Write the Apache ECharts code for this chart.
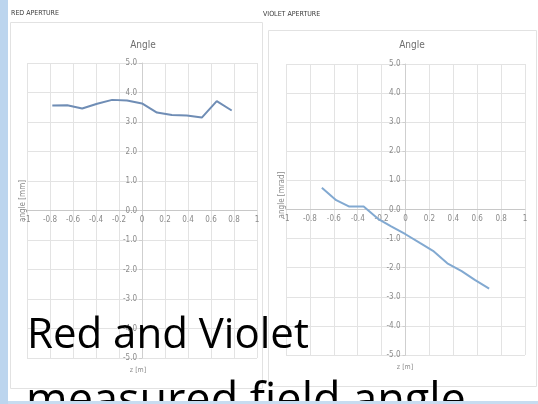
<!DOCTYPE html>
<html>
<head>
<meta charset="utf-8">
<script src="https://cdn.jsdelivr.net/npm/echarts@6/dist/echarts.min.js"></script>
<style>
  html, body { margin: 0; padding: 0; background: #ffffff; }
  #chart { width: 538px; height: 404px; }
</style>
</head>
<body>
<div id="chart"></div>
<script>
// Red aperture: angle [mm] versus z [m]
const redZ = [-0.78, -0.65, -0.52, -0.39, -0.26, -0.13, 0, 0.13, 0.26, 0.39, 0.52, 0.65, 0.78];
const redAngle = [3.56, 3.57, 3.46, 3.62, 3.75, 3.73, 3.63, 3.32, 3.24, 3.22, 3.15, 3.71, 3.39];

// Violet aperture: angle [mrad] versus z [m]
const violetZ = [-0.70, -0.58, -0.47, -0.35, -0.23, -0.12, 0, 0.12, 0.23, 0.35, 0.47, 0.58, 0.70];
const violetAngle = [0.75, 0.32, 0.10, 0.10, -0.32, -0.58, -0.85, -1.15, -1.42, -1.85, -2.12, -2.42, -2.72];

const zTicks = { min: -1, max: 1, step: 0.2 };
const angleTicks = { min: -5, max: 5, step: 1 };

const labelFont = "'Liberation Sans Narrow', 'DejaVu Sans Condensed', 'Liberation Sans', sans-serif";
const gridColor = '#e3e3e3';
const labelColor = '#8a8a8a';

// plot rectangles of the two panels
const panels = [
  { left: 27, top: 63, width: 230, height: 295 },
  { left: 286, top: 64, width: 239, height: 291 }
];

function pairs(xs, ys) { return xs.map((x, i) => [x, ys[i]]); }

// axes cross at zero: shift each axis from its edge to the zero of the other axis
function zeroShift(length, t) { return -length * (0 - t.min) / (t.max - t.min); }

function xAxisFor(gi) {
  return {
    type: 'value', gridIndex: gi, position: 'bottom',
    offset: zeroShift(panels[gi].height, angleTicks),
    min: zTicks.min, max: zTicks.max, interval: zTicks.step,
    axisLine: { show: true, onZero: false, lineStyle: { color: '#c8c8c8', width: 1 } },
    axisTick: { show: false },
    axisLabel: {
      color: labelColor, fontSize: 8, fontFamily: labelFont, margin: 5,
      formatter: v => { const r = Math.round(v * 10) / 10; return String(r === 0 ? 0 : r); }
    },
    splitLine: { show: true, lineStyle: { color: gridColor, width: 1 } }
  };
}

function yAxisFor(gi) {
  return {
    type: 'value', gridIndex: gi, position: 'left',
    offset: zeroShift(panels[gi].width, zTicks),
    min: angleTicks.min, max: angleTicks.max, interval: angleTicks.step,
    axisLine: { show: true, onZero: false, lineStyle: { color: '#cfcfcf', width: 1 } },
    axisTick: { show: true, length: 3, inside: false, lineStyle: { color: '#cfcfcf' } },
    axisLabel: {
      color: labelColor, fontSize: 8, fontFamily: labelFont, margin: 5,
      formatter: v => (Math.round(v * 10) / 10).toFixed(1)
    },
    splitLine: { show: true, lineStyle: { color: gridColor, width: 1 } }
  };
}

const chart = echarts.init(document.getElementById('chart'), null, { renderer: 'canvas' });

chart.setOption({
  animation: false,
  backgroundColor: '#ffffff',
  title: [
    { text: 'Angle', left: 138, top: 35, textAlign: 'center',
      textStyle: { color: '#6e6e6e', fontSize: 10, fontWeight: 'normal', fontFamily: labelFont } },
    { text: 'Angle', left: 407, top: 35, textAlign: 'center',
      textStyle: { color: '#6e6e6e', fontSize: 10, fontWeight: 'normal', fontFamily: labelFont } }
  ],
  grid: panels.map(p => Object.assign({ containLabel: false }, p)),
  xAxis: [xAxisFor(0), xAxisFor(1)],
  yAxis: [yAxisFor(0), yAxisFor(1)],
  series: [
    { name: 'RED APERTURE', type: 'line', xAxisIndex: 0, yAxisIndex: 0,
      data: pairs(redZ, redAngle), symbol: 'none', smooth: false,
      lineStyle: { color: '#6f8db5', width: 2 }, z: 3 },
    { name: 'VIOLET APERTURE', type: 'line', xAxisIndex: 1, yAxisIndex: 1,
      data: pairs(violetZ, violetAngle), symbol: 'none', smooth: false,
      lineStyle: { color: '#82a9d1', width: 2 }, z: 3 }
  ],
  graphic: [
    // slide background bands
    { type: 'rect', shape: { x: 0, y: 0, width: 8, height: 404 }, style: { fill: '#bcd5ee' }, z: 120 },
    { type: 'rect', shape: { x: 8, y: 401, width: 530, height: 3 }, style: { fill: '#c7dcf0' }, z: 120 },
    // chart frames
    { type: 'rect', shape: { x: 10.5, y: 22.5, width: 252, height: 366 },
      style: { fill: 'none', stroke: '#e2e2e2', lineWidth: 1 }, z: 0 },
    { type: 'rect', shape: { x: 268.5, y: 30.5, width: 268, height: 356 },
      style: { fill: 'none', stroke: '#e2e2e2', lineWidth: 1 }, z: 0 },
    // panel headings
    { type: 'text', left: 11, top: 10, z: 50,
      style: { text: 'RED APERTURE', fill: '#3a3a3a', font: '7px ' + labelFont } },
    { type: 'text', left: 263, top: 11, z: 50,
      style: { text: 'VIOLET APERTURE', fill: '#3a3a3a', font: '7px ' + labelFont } },
    // axis titles
    { type: 'text', x: 23, y: 201, rotation: Math.PI / 2, z: 50,
      style: { text: 'angle [mm]', fill: '#8a8a8a', font: '8px ' + labelFont,
               textAlign: 'center', textVerticalAlign: 'middle' } },
    { type: 'text', x: 282, y: 195, rotation: Math.PI / 2, z: 50,
      style: { text: 'angle [mrad]', fill: '#8a8a8a', font: '8px ' + labelFont,
               textAlign: 'center', textVerticalAlign: 'middle' } },
    { type: 'text', x: 138, y: 370, z: 50,
      style: { text: 'z [m]', fill: '#8a8a8a', font: '7px ' + labelFont,
               textAlign: 'center', textVerticalAlign: 'middle' } },
    { type: 'text', x: 405, y: 367, z: 50,
      style: { text: 'z [m]', fill: '#8a8a8a', font: '7px ' + labelFont,
               textAlign: 'center', textVerticalAlign: 'middle' } },
    // slide caption
    { type: 'text', x: 27, y: 357, z: 100,
      style: { text: 'Red and Violet', fill: '#000000', font: "42px 'Open Sans', 'Noto Sans', sans-serif",
               textVerticalAlign: 'bottom' } },
    { type: 'text', x: 26, y: 425, z: 100,
      style: { text: 'measured field angle', fill: '#000000', font: "45px 'Open Sans', 'Noto Sans', sans-serif",
               textVerticalAlign: 'bottom' } }
  ]
});
</script>
</body>
</html>
